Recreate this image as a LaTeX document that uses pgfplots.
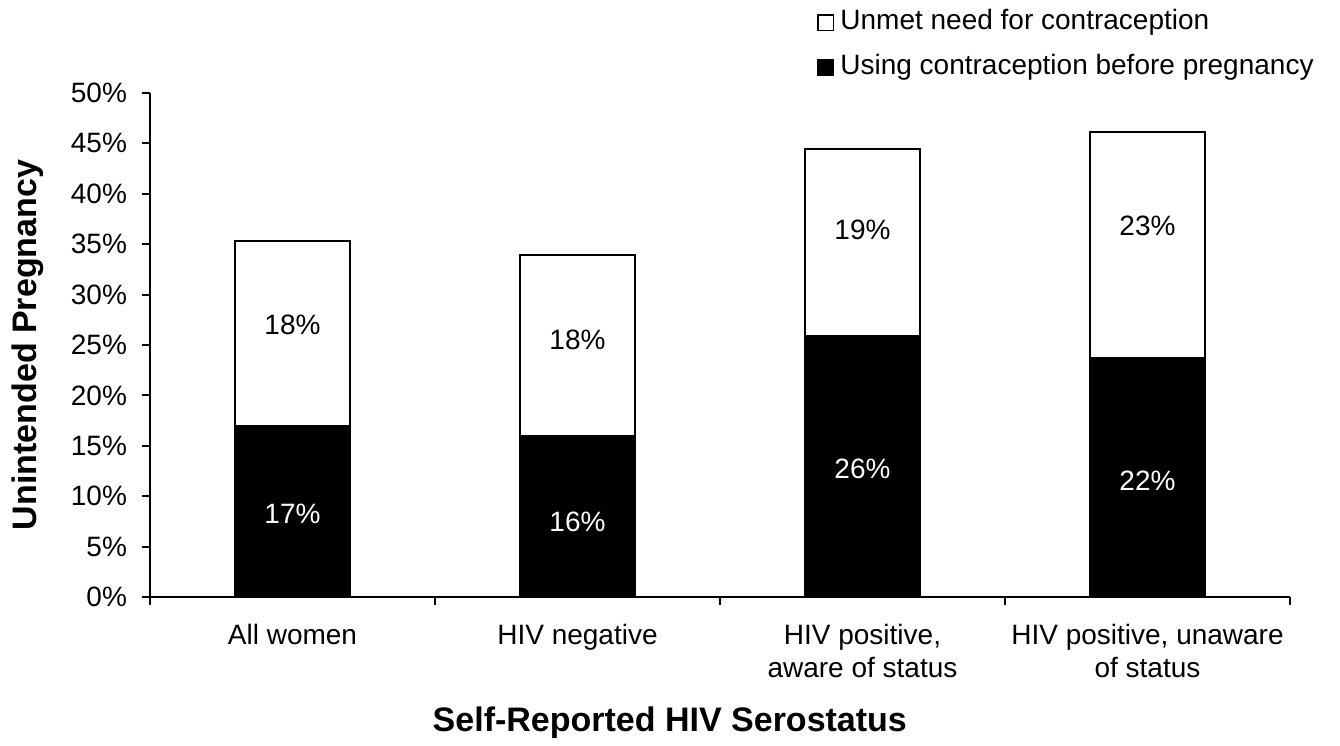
\documentclass[border=0pt]{standalone}
\usepackage{fontspec}
\setmainfont{Liberation Sans}
\usepackage{pgfplots}
\pgfplotsset{compat=1.18}

\pgfplotsset{
  sqlegend/.style={legend image code/.code={\draw[##1, line width=0.75pt] (0pt,-3.9pt) rectangle (7.8pt,3.9pt);}},
}

\begin{document}
\begin{tikzpicture}
\begin{axis}[
    scale only axis,
    width=570pt,
    height=252pt,
    xmin=-0.5, xmax=3.5,
    ymin=0, ymax=50,
    axis x line*=bottom,
    axis y line*=left,
    axis line style={line width=1pt, -},
    tick style={line width=1pt, black},
    tick align=outside,
    major tick length=4pt,
    minor tick length=4pt,
    ytick={0,5,...,50},
    yticklabel={\pgfmathprintnumber{\tick}\%},
    xtick={0,1,2,3},
    xticklabels={All women, HIV negative, {HIV positive,\\aware of status}, {HIV positive, unaware\\of status}},
    minor xtick={-0.5,0.5,1.5,2.5,3.5},
    major x tick style={draw=none},
    /pgf/number format/assume math mode=true,
    yticklabel style={font=\fontsize{14}{16}\selectfont, xshift=-4pt},
    xticklabel style={font=\fontsize{14}{16.5}\selectfont, align=center, anchor=north, yshift=-6.2pt},
    ylabel={Unintended Pregnancy},
    xlabel={Self-Reported HIV Serostatus},
    ylabel style={font=\fontsize{17}{20}\selectfont\bfseries, at={(axis description cs:-0.107,0.5)}, anchor=center},
    xlabel style={font=\fontsize{17}{20}\selectfont\bfseries, at={(axis description cs:0.456,-0.25)}, anchor=center},
    legend style={draw=none, fill=none, at={(axis description cs:0.585,1.166)}, anchor=north west,
      inner sep=0pt, row sep=9.5pt, column sep=3pt, font=\fontsize{14}{16}\selectfont,
      nodes={inner sep=0pt, text height=10pt, text depth=3pt}},
    legend cell align=left,
]
% total height of each bar (white part shows unmet need)
\addplot[ybar, bar width=57.5pt, fill=white, draw=black, line width=1pt, sqlegend]
  coordinates {(0,35.3) (1,33.9) (2,44.4) (3,46.1)};
\addlegendentry{Unmet need for contraception}
\addplot[ybar, bar width=57.5pt, fill=black, draw=black, line width=1pt, sqlegend]
  coordinates {(0,17.0) (1,16.0) (2,25.9) (3,23.7)};
\addlegendentry{Using contraception before pregnancy}

% value labels
\addplot[forget plot, draw=none, mark=none, nodes near coords, point meta=explicit symbolic,
  every node near coord/.append style={font=\fontsize{14}{16}\selectfont, text=black, anchor=center}]
  coordinates {(0,27.0)[18\%] (1,25.5)[18\%] (2,36.4)[19\%] (3,36.8)[23\%]};
\addplot[forget plot, draw=none, mark=none, nodes near coords, point meta=explicit symbolic,
  every node near coord/.append style={font=\fontsize{14}{16}\selectfont, text=white, anchor=center}]
  coordinates {(0,8.2)[17\%] (1,7.5)[16\%] (2,12.7)[26\%] (3,11.5)[22\%]};
\end{axis}
\path ([shift={(-75pt,-73pt)}]current axis.south west) rectangle ([shift={(25pt,46.5pt)}]current axis.north east);
\end{tikzpicture}
\end{document}
